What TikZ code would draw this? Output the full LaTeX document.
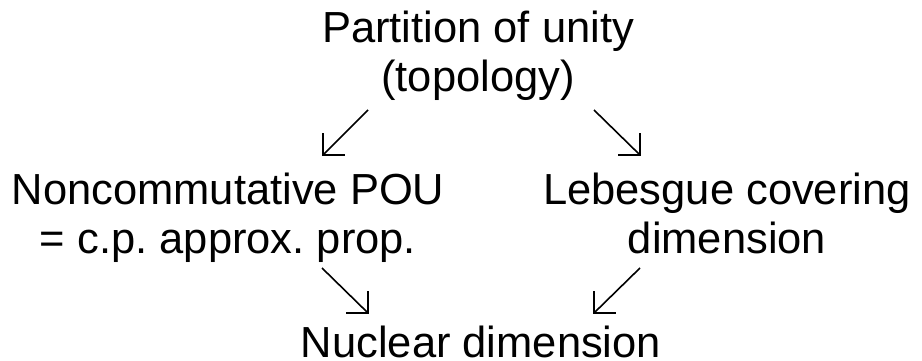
\documentclass[tikz,border=0pt]{standalone}
\usepackage{fontspec}
\setmainfont{Liberation Sans}
\begin{document}
\begin{tikzpicture}[x=1pt,y=-1pt,
  lbl/.style={inner sep=0pt, outer sep=0pt, anchor=base, align=center,
    font=\fontsize{43.5}{49}\selectfont},
  conn/.style={line width=1.6pt, line join=miter, line cap=butt},
]
\useasboundingbox (0,0) rectangle (922,361);
\fill[white] (0,0) rectangle (922,361);
% anchor=base sits on the last line's baseline
\node[lbl] (pou) at (478,92) {Partition of unity\\(topology)};
\node[lbl] (nc) at (228,253) {Noncommutative POU\\= c.p.\ approx.\ prop.};
\node[lbl] (leb) at (727,253) {Lebesgue covering\\dimension};
\node[lbl] (nuc) at (481,357) {Nuclear dimension};
% arrow end points
\coordinate (a1s) at (368,110); \coordinate (a1e) at (323,155);
\coordinate (a2s) at (594,110); \coordinate (a2e) at (640,155);
\coordinate (a3s) at (322,268); \coordinate (a3e) at (368,313);
\coordinate (a4s) at (640,268); \coordinate (a4e) at (594,313);
% arrows (open right-angle heads)
\draw[conn] (a1s) -- (a1e);
\draw[conn] ([yshift=22pt]a1e) -- (a1e) -- ([xshift=22pt]a1e);
\draw[conn] (a2s) -- (a2e);
\draw[conn] ([yshift=22pt]a2e) -- (a2e) -- ([xshift=-22pt]a2e);
\draw[conn] (a3s) -- (a3e);
\draw[conn] ([yshift=22pt]a3e) -- (a3e) -- ([xshift=-22pt]a3e);
\draw[conn] (a4s) -- (a4e);
\draw[conn] ([yshift=22pt]a4e) -- (a4e) -- ([xshift=22pt]a4e);
\end{tikzpicture}
\end{document}
